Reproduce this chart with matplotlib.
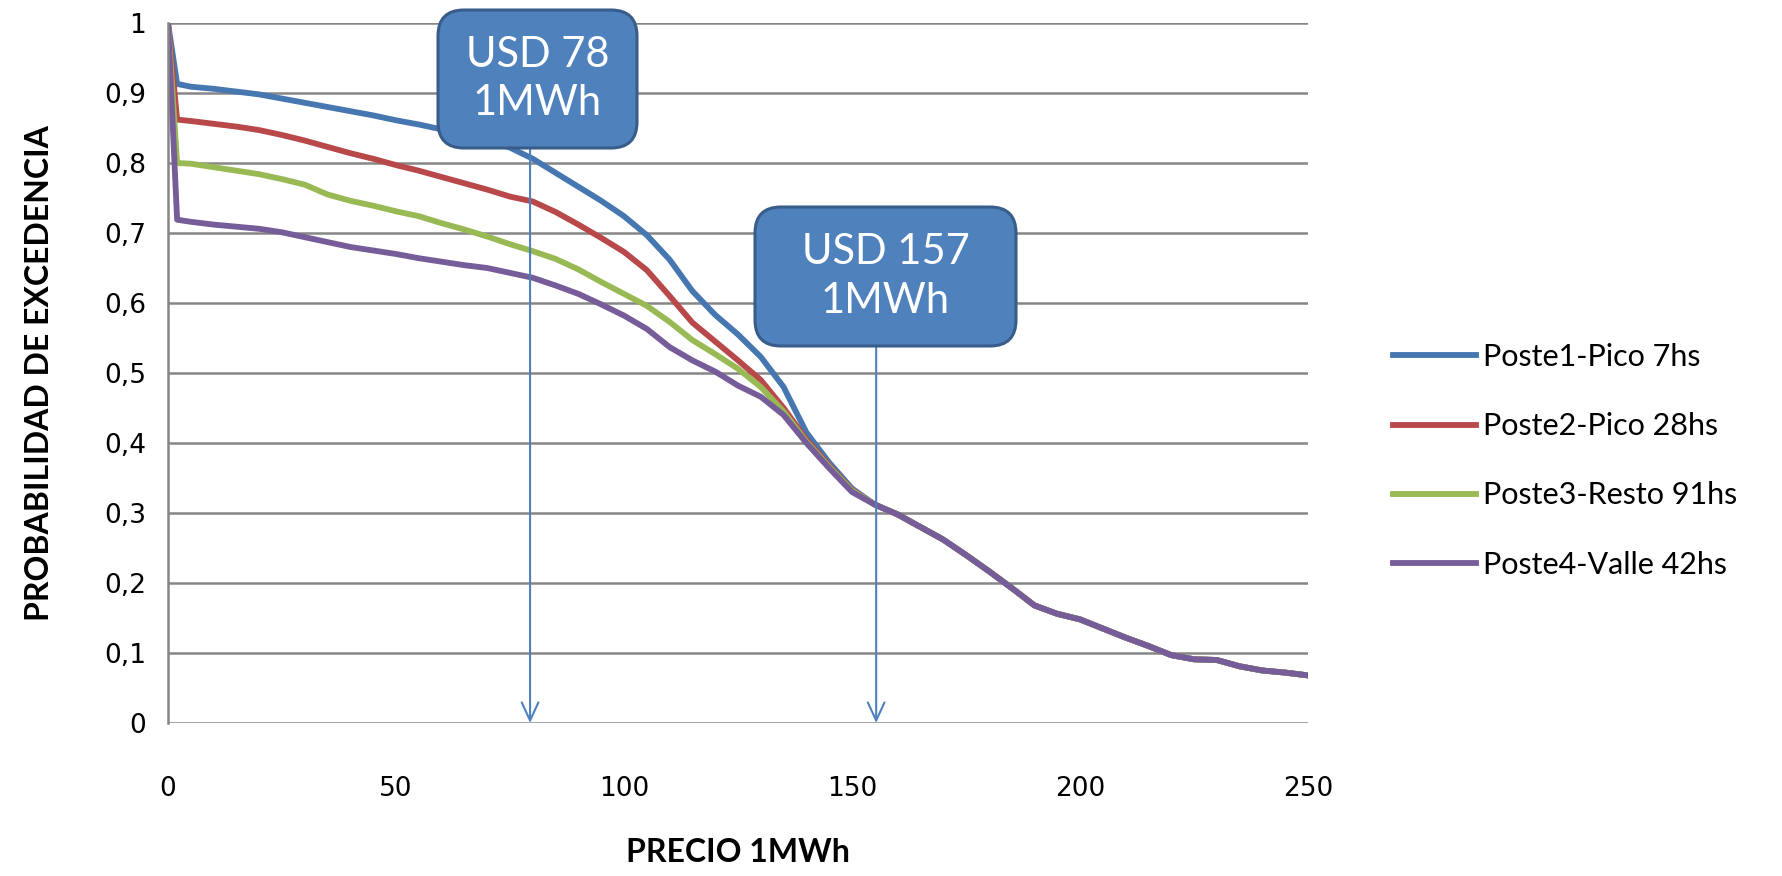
import matplotlib
matplotlib.use("Agg")
import matplotlib.pyplot as plt
from matplotlib.patches import FancyBboxPatch
from matplotlib.ticker import FuncFormatter, MultipleLocator

# precio (USD por MWh)
precio = [0, 2, 5, 10, 15, 20, 25, 30, 35, 40, 45, 50, 55, 60, 65, 70, 75, 80,
          85, 90, 95, 100, 105, 110, 115, 120, 125, 130, 135, 140, 145, 150,
          155, 160, 165, 170, 175, 180, 185, 190, 195, 200, 205, 210, 215, 220,
          225, 230, 235, 240, 245, 250]

# tramo comun de las cuatro curvas (155..250)
cola = [0.312, 0.298, 0.280, 0.262, 0.240, 0.217, 0.193, 0.168, 0.156, 0.148,
        0.135, 0.122, 0.110, 0.097, 0.091, 0.090, 0.081, 0.075, 0.072, 0.068]

poste1 = [1.0, 0.913, 0.909, 0.906, 0.902, 0.898, 0.892, 0.886, 0.880, 0.874,
          0.868, 0.861, 0.855, 0.848, 0.840, 0.832, 0.822, 0.806, 0.786, 0.766,
          0.746, 0.724, 0.697, 0.662, 0.617, 0.583, 0.555, 0.523, 0.480, 0.415,
          0.372, 0.335] + cola
poste2 = [1.0, 0.862, 0.860, 0.856, 0.852, 0.847, 0.840, 0.832, 0.823, 0.814,
          0.806, 0.797, 0.789, 0.780, 0.771, 0.762, 0.752, 0.745, 0.730, 0.712,
          0.693, 0.673, 0.647, 0.610, 0.572, 0.545, 0.518, 0.490, 0.450, 0.405,
          0.368, 0.333] + cola
poste3 = [1.0, 0.800, 0.799, 0.794, 0.789, 0.784, 0.777, 0.769, 0.755, 0.746,
          0.739, 0.731, 0.724, 0.714, 0.705, 0.695, 0.684, 0.674, 0.663, 0.648,
          0.630, 0.613, 0.596, 0.573, 0.547, 0.527, 0.506, 0.480, 0.445, 0.402,
          0.366, 0.332] + cola
poste4 = [1.0, 0.719, 0.716, 0.712, 0.709, 0.706, 0.701, 0.694, 0.687, 0.680,
          0.675, 0.670, 0.664, 0.659, 0.654, 0.650, 0.643, 0.636, 0.625, 0.613,
          0.598, 0.582, 0.563, 0.537, 0.518, 0.502, 0.482, 0.466, 0.440, 0.400,
          0.364, 0.330] + cola

series = [poste1, poste2, poste3, poste4]
nombres = ["Poste1-Pico 7hs", "Poste2-Pico 28hs", "Poste3-Resto 91hs", "Poste4-Valle 42hs"]
colores = ["#4677b0", "#b8484a", "#98b954", "#765c98"]

# marcas de precio senaladas
marcas_x = [79.4, 155.3]
marcas_txt = ["USD 78\n1MWh", "USD 157\n1MWh"]

fig = plt.figure(figsize=(17.83, 8.76), dpi=100)
ax = fig.add_axes([168 / 1783, 1 - 723 / 876, (1308 - 168) / 1783, 700 / 876])

for y, nom, c in zip(series, nombres, colores):
    ax.plot(precio, y, color=c, lw=4.2, label=nom, solid_joinstyle="round")

ax.set_xlim(0, 250)
ax.set_ylim(0, 1)
ax.xaxis.set_major_locator(MultipleLocator(50))
ax.yaxis.set_major_locator(MultipleLocator(0.1))
ax.yaxis.set_major_formatter(FuncFormatter(lambda v, p: f"{v:.1f}".rstrip("0").rstrip(".").replace(".", ",")))
ax.grid(axis="y", color="#868686", lw=1.8)
ax.set_axisbelow(True)
for s in ["top", "right", "bottom"]:
    ax.spines[s].set_visible(False)
ax.spines["left"].set_color("#868686")
ax.spines["left"].set_linewidth(1.8)
ax.tick_params(axis="both", length=0, labelsize=19, colors="black")
ax.tick_params(axis="y", pad=16)
ax.tick_params(axis="x", pad=38)

ax.set_xlabel("PRECIO 1MWh", family="Lato", fontweight="bold", fontsize=23, labelpad=26)
ax.set_ylabel("PROBABILIDAD DE EXCEDENCIA", family="Lato", fontweight="bold", fontsize=23, labelpad=36)

fig.legend(loc="upper left", bbox_to_anchor=(1393 / 1783, 1 - 343 / 876),
           frameon=False, prop={"family": "Lato", "size": 22}, handlelength=2.7,
           handletextpad=0.25, labelspacing=1.35, borderpad=0, borderaxespad=0)

# cuadros de texto (en pulgadas desde la esquina inferior izquierda)
cajas = [(4.38, 7.28, 1.99, 1.38), (7.55, 5.30, 2.61, 1.39)]
for (x0, y0, w, h), txt, mx in zip(cajas, marcas_txt, marcas_x):
    caja = FancyBboxPatch((x0, y0), w, h, boxstyle="round,pad=0,rounding_size=0.26",
                          transform=fig.dpi_scale_trans, facecolor="#4f81bd",
                          edgecolor="#385d8a", lw=2.2, zorder=5)
    fig.add_artist(caja)
    fig.text(x0 + w / 2, y0 + h / 2, txt, transform=fig.dpi_scale_trans, ha="center",
             va="center", color="white", family="Lato", fontsize=30, linespacing=1.35, zorder=6)
    ybox = ax.transData.inverted().transform(fig.dpi_scale_trans.transform((x0, y0)))[1]
    ax.annotate("", xy=(mx, 0), xytext=(mx, ybox), zorder=7, annotation_clip=False,
                arrowprops=dict(arrowstyle="->,head_length=1.3,head_width=0.6",
                                color="#4f81bd", lw=1.5, shrinkA=0, shrinkB=0))

fig.savefig("out.png", dpi=100)
